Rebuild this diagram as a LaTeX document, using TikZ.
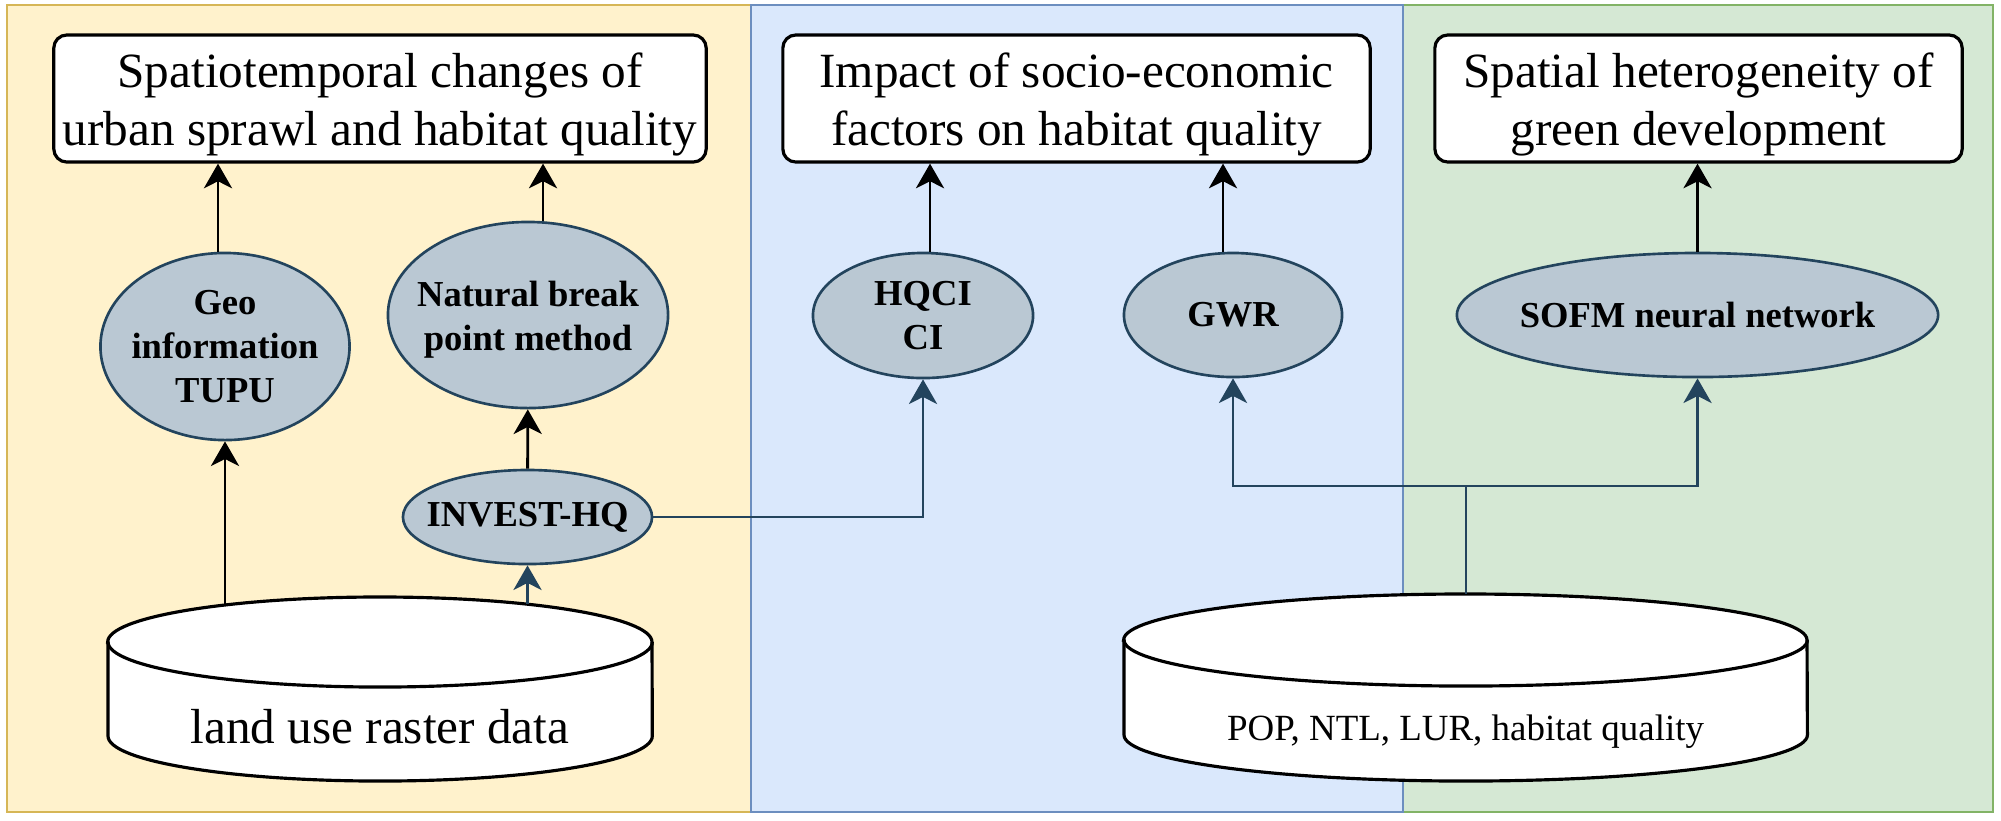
\documentclass[tikz,border=0pt]{standalone}
\usepackage{fontspec}
\setmainfont{Liberation Serif}
\usetikzlibrary{arrows.meta,shapes.geometric}
\definecolor{ylwfill}{HTML}{FFF2CC}
\definecolor{ylwline}{HTML}{D6B656}
\definecolor{blufill}{HTML}{DAE8FC}
\definecolor{bluline}{HTML}{6C8EBF}
\definecolor{grnfill}{HTML}{D5E8D4}
\definecolor{grnline}{HTML}{82B366}
\definecolor{ellfill}{HTML}{BAC8D3}
\definecolor{ellline}{HTML}{23445D}
\newcommand{\tstrut}{\rule{0pt}{13.1pt}}
\newcommand{\nstrut}{\rule{0pt}{10pt}}
\begin{document}
\begin{tikzpicture}[x=0.01cm,y=-0.01cm,
 titlebox/.style={draw=black, line width=0.9pt, fill=white, rounded corners=3.7pt, inner sep=0pt, align=center, font=\fontsize{14}{16.5}\selectfont},
 method/.style={ellipse, draw=ellline, fill=ellfill, line width=0.75pt, inner sep=-8pt, align=center, font=\fontsize{10.4}{12.5}\selectfont\bfseries},
 arr/.style={draw=black, line width=0.8pt, -{Stealth[length=7pt,width=8pt,inset=2pt]}},
 arrb/.style={draw=ellline, line width=0.8pt, -{Stealth[length=7pt,width=8pt,inset=2pt]}},
 lineb/.style={draw=ellline, line width=0.8pt},
 panel/.style={line width=0.7pt},
 cyl/.style={draw=black, line width=0.9pt, fill=white},
]
\useasboundingbox (0,0) rectangle (2001,820);
\fill[white] (0,0) rectangle (2001,820);
% panels
\path[panel, fill=ylwfill, draw=ylwline] (7,5) rectangle (751,812);
\path[panel, fill=grnfill, draw=grnline] (1403,5) rectangle (1993,812);
\path[panel, fill=blufill, draw=bluline] (751,5) rectangle (1403,812);
% title boxes
\node[titlebox, minimum width=6.52cm, minimum height=1.27cm] (t1) at (380,98.5) {\tstrut Spatiotemporal changes of\\urban sprawl and habitat quality};
\node[titlebox, minimum width=5.87cm, minimum height=1.27cm] (t2) at (1076.5,98.5) {\tstrut Impact of socio-economic\\factors on habitat quality};
\node[titlebox, minimum width=5.27cm, minimum height=1.27cm] (t3) at (1698.5,98.5) {\tstrut Spatial heterogeneity of\\green development};
% method ellipses
\node[method, minimum width=2.49cm, minimum height=1.87cm] (geo) at (225,346.5) {Geo\\information\\TUPU};
\node[method, minimum width=2.80cm, minimum height=1.86cm] (nat) at (528,315) {\nstrut Natural break\\point method};
\node[method, minimum width=2.49cm, minimum height=0.94cm] (inv) at (527.5,517) {INVEST-HQ};
\node[method, minimum width=2.20cm, minimum height=1.25cm] (hq) at (923,315.5) {HQCI\\CI};
\node[method, minimum width=2.18cm, minimum height=1.24cm] (gwr) at (1233,315) {GWR};
\node[method, minimum width=4.81cm, minimum height=1.24cm] (sofm) at (1697.5,315) {SOFM neural network};
% cylinder 1
\path[cyl] (108,642) -- (108,736) arc[start angle=180, end angle=360, x radius=2.72cm, y radius=0.45cm] -- (652,642) arc[start angle=0, end angle=180, x radius=2.72cm, y radius=0.45cm] -- cycle;
\draw[cyl, fill=none] (108,642) arc[start angle=180, end angle=360, x radius=2.72cm, y radius=0.45cm];
\node[anchor=base, inner sep=0pt, font=\fontsize{14}{16}\selectfont] (d1) at (380,743) {land use raster data};
% cylinder 2
\path[cyl] (1124,640) -- (1124,735) arc[start angle=180, end angle=360, x radius=3.415cm, y radius=0.46cm] -- (1807,640) arc[start angle=0, end angle=180, x radius=3.415cm, y radius=0.46cm] -- cycle;
\draw[cyl, fill=none] (1124,640) arc[start angle=180, end angle=360, x radius=3.415cm, y radius=0.46cm];
\node[anchor=base, inner sep=0pt, font=\fontsize{10.5}{12}\selectfont] (d2) at (1465.5,740) {POP, NTL, LUR, habitat quality};
% connector end points
\coordinate (c1a) at (225,605);
\coordinate (c1b) at (527.5,604);
\coordinate (c2top) at (1466,594);
\coordinate (jn) at (1466,486);
% connectors
\draw[arr] (c1a) -- (geo);
\draw[arrb] (c1b) -- (inv);
\draw[arr] (inv) -- (nat);
\draw[arr] ([xshift=-0.07cm]geo.north) -- ([xshift=-0.07cm]geo.north |- t1.south);
\draw[arr] ([xshift=0.15cm]nat.north) -- ([xshift=0.15cm]nat.north |- t1.south);
\draw[arrb] (inv.east) -| (hq.south);
\draw[arr] ([xshift=0.07cm]hq.north) -- ([xshift=0.07cm]hq.north |- t2.south);
\draw[arr] ([xshift=-0.1cm]gwr.north) -- ([xshift=-0.1cm]gwr.north |- t2.south);
\draw[arr] (sofm.north) -- (sofm.north |- t3.south);
\draw[lineb] (c2top) -- (jn);
\draw[arrb] (jn) -| (gwr.south);
\draw[arrb] (jn) -| (sofm.south);
\end{tikzpicture}
\end{document}
